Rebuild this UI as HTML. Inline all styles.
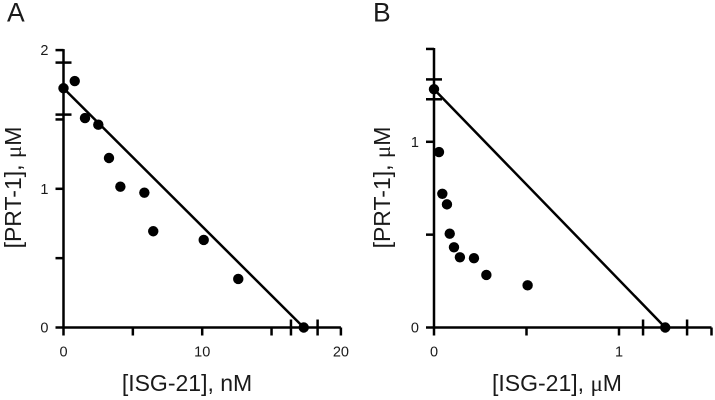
<!DOCTYPE html>
<html>
<head>
<meta charset="utf-8">
<title>PRT-1 and ISG-21 binding plots</title>
<style>
html,body{margin:0;padding:0;background:#fff;}
svg{display:block;}
text{font-family:"Liberation Sans",sans-serif;fill:#1a1a1a;}
</style>
</head>
<body>
<svg id="chart" xmlns="http://www.w3.org/2000/svg" width="715" height="400" viewBox="0 0 715 400">
  <rect width="715" height="400" fill="#fff"/>
  <text x="7" y="21.5" font-size="26.5">A</text>
  <text x="373" y="21.5" font-size="26.5">B</text>
  <text x="187" y="391" font-size="23" text-anchor="middle">[ISG-21], nM</text>
  <text x="557" y="391" font-size="23" text-anchor="middle">[ISG-21], <tspan font-family="Liberation Serif">μ</tspan>M</text>
  <text transform="translate(21,187.5) rotate(-90)" font-size="23" text-anchor="middle">[PRT-1], <tspan font-family="Liberation Serif">μ</tspan>M</text>
  <text transform="translate(390,187.5) rotate(-90)" font-size="23" text-anchor="middle">[PRT-1], <tspan font-family="Liberation Serif">μ</tspan>M</text>
</svg>
<script>
const aPointsX = [0, 0.81, 1.55, 2.51, 3.28, 4.10, 5.83, 6.47, 10.11, 12.6, 17.32];
const aPointsY = [1.725, 1.777, 1.51, 1.462, 1.222, 1.015, 0.972, 0.694, 0.631, 0.35, 0];
const aFitX = [0, 17.32];
const aFitY = [1.725, 0];
const aCapsOnY = [1.91, 1.535];
const aCapsOnX = [16.4, 18.32];
const aXTicks = [0, 5, 10, 15, 20];
const aXTickLabels = ["0", "", "10", "", "20"];
const aYTicks = [0, 0.5, 1, 1.5, 2];
const aYTickLabels = ["0", "", "1", "", "2"];

const bPointsX = [0, 0.027, 0.045, 0.07, 0.085, 0.108, 0.14, 0.216, 0.283, 0.506, 1.25];
const bPointsY = [1.283, 0.945, 0.72, 0.663, 0.505, 0.432, 0.378, 0.373, 0.283, 0.227, 0];
const bFitX = [0, 1.25];
const bFitY = [1.283, 0];
const bCapsOnY = [1.336, 1.229];
const bCapsOnX = [1.13, 1.368];
const bXTicks = [0, 0.5, 1, 1.5];
const bXTickLabels = ["0", "", "1", ""];
const bYTicks = [0, 0.5, 1, 1.5];
const bYTickLabels = ["0", "", "1", ""];

const svg = document.getElementById('chart');
const NS = 'http://www.w3.org/2000/svg';

function make(tag, attrs) {
  const el = document.createElementNS(NS, tag);
  Object.keys(attrs).forEach(function (k) { el.setAttribute(k, attrs[k]); });
  svg.appendChild(el);
  return el;
}

function drawPanel(p) {
  const sx = function (v) { return p.x0 + v * p.kx; };
  const sy = function (v) { return p.y0 - v * p.ky; };
  const stroke = { stroke: '#000', 'stroke-width': 2.5, fill: 'none' };

  const xAxis = make('line', Object.assign({ x1: sx(0), x2: sx(p.xTicks[p.xTicks.length - 1]), y1: p.y0, y2: p.y0 }, stroke));
  
  
  const yAxis = make('line', Object.assign({ x1: p.x0, x2: p.x0, y1: sy(p.yTicks[p.yTicks.length - 1]) - 1, y2: p.y0 }, stroke));
  
  

  p.xTicks.forEach(function (v, i) {
    const t = make('line', Object.assign({ x1: sx(v), x2: sx(v), y1: p.y0, y2: p.y0 + 8 }, stroke));
    
    
    if (p.xLabels[i]) {
      const l = make('text', { x: sx(v), y: p.y0 + 29, 'font-size': 14.5, 'text-anchor': 'middle' });
      l.textContent = p.xLabels[i];
      
      
    }
  });

  p.yTicks.forEach(function (v, i) {
    const t = make('line', Object.assign({ x1: p.x0 - 8, x2: p.x0, y1: sy(v), y2: sy(v) }, stroke));
    
    
    if (p.yLabels[i]) {
      const l = make('text', { x: p.x0 - 15, y: sy(v) + 5, 'font-size': 14.5, 'text-anchor': 'end' });
      l.textContent = p.yLabels[i];
      
      
    }
  });

  p.capsY.forEach(function (v) {
    const c = make('line', Object.assign({ x1: p.x0 - 8, x2: p.x0 + 8, y1: sy(v), y2: sy(v) }, stroke));
    
    
  });
  p.capsX.forEach(function (v) {
    const c = make('line', Object.assign({ x1: sx(v), x2: sx(v), y1: p.y0 - 8, y2: p.y0 + 8 }, stroke));
    
    
  });

  const fit = make('line', Object.assign({ x1: sx(p.fitX[0]), y1: sy(p.fitY[0]), x2: sx(p.fitX[1]), y2: sy(p.fitY[1]) }, stroke));
  
  

  p.ptsX.forEach(function (v, i) {
    const c = make('circle', { cx: sx(v), cy: sy(p.ptsY[i]), r: 5.2, fill: '#000' });
    
    
  });
}

drawPanel({ id: 'panel-a', x0: 63.5, y0: 327.5, kx: 13.87, ky: 138.7,
  xTicks: aXTicks, xLabels: aXTickLabels, yTicks: aYTicks, yLabels: aYTickLabels,
  capsY: aCapsOnY, capsX: aCapsOnX, fitX: aFitX, fitY: aFitY, ptsX: aPointsX, ptsY: aPointsY });
drawPanel({ id: 'panel-b', x0: 434, y0: 327.5, kx: 185, ky: 185.7,
  xTicks: bXTicks, xLabels: bXTickLabels, yTicks: bYTicks, yLabels: bYTickLabels,
  capsY: bCapsOnY, capsX: bCapsOnX, fitX: bFitX, fitY: bFitY, ptsX: bPointsX, ptsY: bPointsY });
</script>
</body>
</html>
